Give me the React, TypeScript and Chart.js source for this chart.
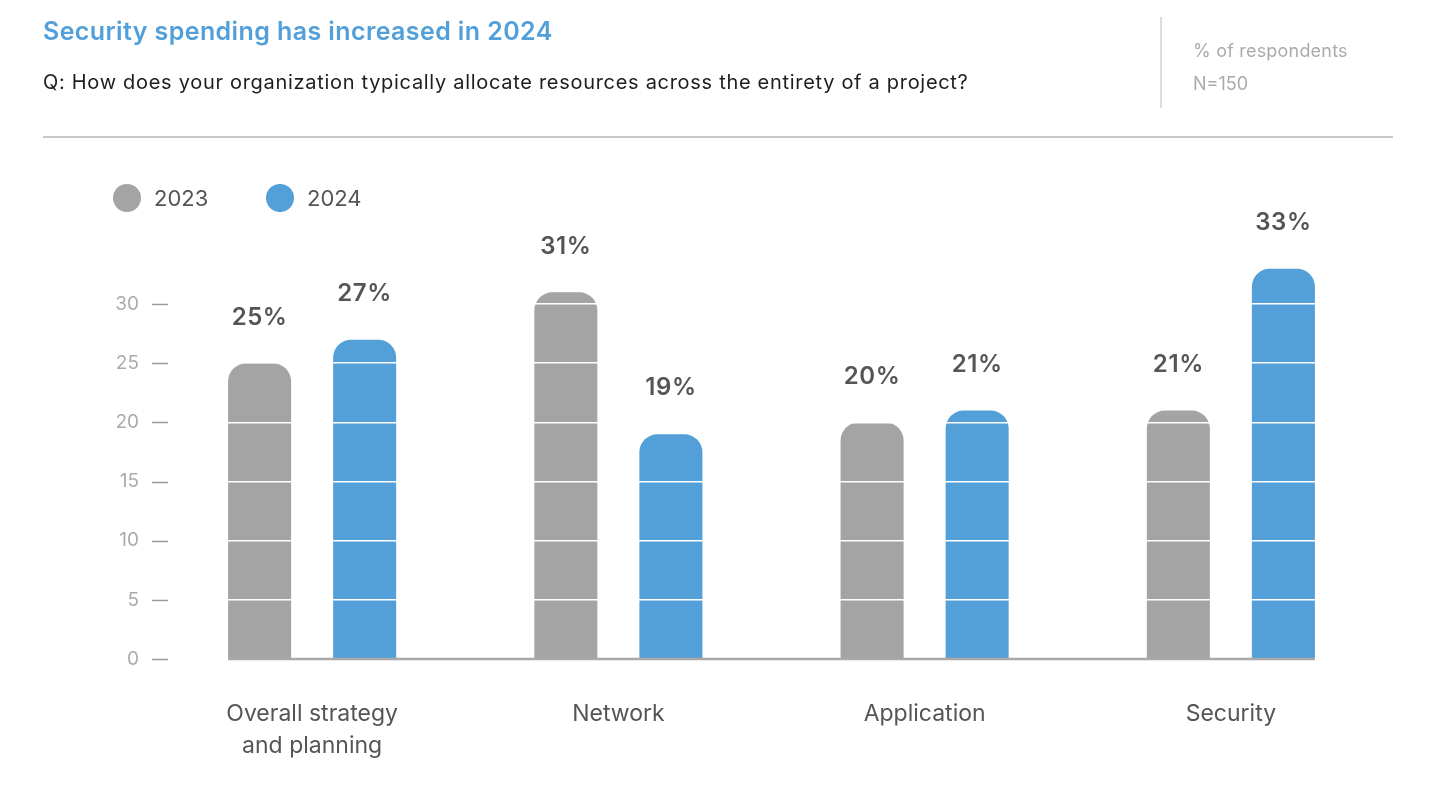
import React, { useEffect, useRef } from "react";
import { Chart, registerables } from "chart.js";

Chart.register(...registerables);

const categories: (string | string[])[] = [["Overall strategy", "and planning"], "Network", "Application", "Security"];
const seriesNames = ["2023", "2024"];
const values2023 = [25, 31, 20, 21];
const values2024 = [27, 19, 21, 33];
const yTicks = [0, 5, 10, 15, 20, 25, 30];

const GRAY = "#a3a4a3";
const BLUE = "#539fd8";
const FONT = "Inter, 'Noto Sans', sans-serif";

const overlayPlugin = {
  id: "overlay",
  afterDraw(chart: any) {
    const ctx = chart.ctx;
    const area = chart.chartArea;
    const y = chart.scales.y;
    ctx.save();
    // tick dashes
    ctx.strokeStyle = "#9a9a9a";
    ctx.lineWidth = 1.5;
    yTicks.forEach((t) => {
      const py = Math.round(y.getPixelForValue(t)) + 0.5;
      ctx.beginPath();
      ctx.moveTo(area.left - 7, py);
      ctx.lineTo(area.left + 9, py);
      ctx.stroke();
    });
    // baseline
    const first = chart.getDatasetMeta(0).data[0];
    const lastMeta = chart.getDatasetMeta(chart.data.datasets.length - 1);
    const last = lastMeta.data[lastMeta.data.length - 1];
    const x0 = first.x - first.width / 2;
    const x1 = last.x + last.width / 2;
    ctx.strokeStyle = "#a9a9a9";
    ctx.lineWidth = 2.5;
    ctx.beginPath();
    ctx.moveTo(x0, area.bottom);
    ctx.lineTo(x1, area.bottom);
    ctx.stroke();
    // value labels
    ctx.fillStyle = "#555555";
    ctx.font = `600 24px ${FONT}`;
    if ("letterSpacing" in ctx) (ctx as any).letterSpacing = "0.6px";
    ctx.textAlign = "center";
    ctx.textBaseline = "middle";
    chart.data.datasets.forEach((ds: any, di: number) => {
      const meta = chart.getDatasetMeta(di);
      meta.data.forEach((el: any, i: number) => {
        ctx.fillText(`${ds.data[i]}%`, el.x, el.y - 46);
      });
    });
    ctx.restore();
  },
};

function BarChart() {
  const ref = useRef<HTMLCanvasElement>(null);
  useEffect(() => {
    if (!ref.current) return;
    const chart = new Chart(ref.current, {
      type: "bar",
      data: {
        labels: categories,
        datasets: [
          {
            label: seriesNames[0],
            data: values2023,
            backgroundColor: GRAY,
            borderRadius: { topLeft: 18, topRight: 18, bottomLeft: 0, bottomRight: 0 },
            borderSkipped: false,
            barPercentage: 0.6,
            categoryPercentage: 0.686,
          },
          {
            label: seriesNames[1],
            data: values2024,
            backgroundColor: BLUE,
            borderRadius: { topLeft: 18, topRight: 18, bottomLeft: 0, bottomRight: 0 },
            borderSkipped: false,
            barPercentage: 0.6,
            categoryPercentage: 0.686,
          },
        ],
      },
      options: {
        responsive: false,
        animation: false,
        devicePixelRatio: 1,
        layout: { padding: { left: 0, right: 46, top: 245, bottom: 0 } },
        plugins: { legend: { display: false }, tooltip: { enabled: false } },
        scales: {
          x: {
            grid: { display: false, drawTicks: false },
            border: { display: false },
            ticks: { color: "#555555", font: { family: FONT, size: 23, lineHeight: 1.38 }, padding: 39 },
            afterFit: (s: any) => { s.height = 142; },
          },
          y: {
            min: 0,
            max: 35,
            afterBuildTicks: (s: any) => { s.ticks = yTicks.map((v) => ({ value: v })); },
            grid: { color: "#ffffff", lineWidth: 1.6, drawTicks: false, z: 1 },
            border: { display: false },
            ticks: { color: "#ababab", font: { family: FONT, size: 19 }, padding: 20 },
            afterFit: (s: any) => { s.width = 159; },
          },
        },
      },
      plugins: [overlayPlugin],
    });
    return () => chart.destroy();
  }, []);
  return <canvas ref={ref} width={1430} height={801} style={{ position: "absolute", left: 0, top: 0, width: 1430, height: 801 }} />;
}

export default function App() {
  const legend = [
    { name: seriesNames[0], color: GRAY, left: 113, textLeft: 154 },
    { name: seriesNames[1], color: BLUE, left: 266, textLeft: 307 },
  ];
  return (
    <div style={{ position: "absolute", left: 0, top: 0, width: 1430, height: 801, background: "#fff", fontFamily: FONT, overflow: "hidden" }}>
      <BarChart />
      <div style={{ position: "absolute", left: 43, top: 16, fontSize: 25, fontWeight: 600, color: "#529fd9", whiteSpace: "nowrap", letterSpacing: "0.4px" }}>
        Security spending has increased in 2024
      </div>
      <div style={{ position: "absolute", left: 43, top: 70, fontSize: 20, color: "#1e1e1e", whiteSpace: "nowrap", letterSpacing: "0.7px" }}>
        Q: How does your organization typically allocate resources across the entirety of a project?
      </div>
      <div style={{ position: "absolute", left: 1160, top: 17, width: 1.5, height: 91, background: "#dddddd" }} />
      <div style={{ position: "absolute", left: 1193, top: 40, fontSize: 18, color: "#ababab", whiteSpace: "nowrap", letterSpacing: "0.2px" }}>% of respondents</div>
      <div style={{ position: "absolute", left: 1193, top: 73, fontSize: 18, color: "#ababab", whiteSpace: "nowrap" }}>N=150</div>
      <div style={{ position: "absolute", left: 43, top: 136, width: 1350, height: 1.5, background: "#c8c8c8" }} />
      {legend.map((l) => (
        <React.Fragment key={l.name}>
          <div style={{ position: "absolute", left: l.left, top: 184, width: 28, height: 28, borderRadius: 14, background: l.color }} />
          <div style={{ position: "absolute", left: l.textLeft, top: 185, fontSize: 22, color: "#555555", lineHeight: "26px" }}>{l.name}</div>
        </React.Fragment>
      ))}
    </div>
  );
}
